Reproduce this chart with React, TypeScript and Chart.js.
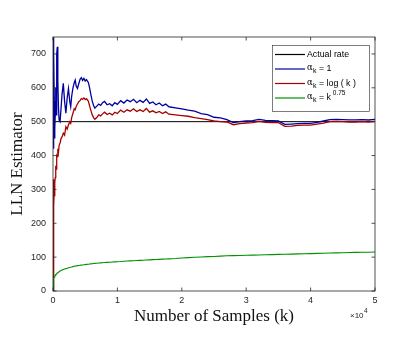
import { useEffect, useRef } from "react";
import { Chart, registerables } from "chart.js";

Chart.register(...registerables);

const sampleCounts = [
  0, 50, 100, 150, 200, 250, 300, 350, 400, 450,
  500, 550, 600, 670, 750, 850, 950, 1100, 1250, 1400,
  1600, 1800, 2000, 2200, 2400, 2600, 2750, 2900, 3100, 3300,
  3450, 3600, 3800, 4000, 4200, 4400, 4600, 4800, 5000, 5200,
  5500, 5700, 5900, 6100, 6300, 6500, 6800, 7100, 7400, 7700,
  8000, 8400, 8800, 9200, 9600, 10000, 10500, 11000, 11500, 12000,
  12500, 13000, 13500, 14000, 14500, 15000, 15500, 16000, 16500, 17000,
  17500, 18000, 19000, 20000, 21000, 22000, 23000, 24000, 25000, 26000,
  27000, 28000, 29000, 30000, 31000, 32000, 33000, 34000, 35000, 36000,
  37000, 38000, 39000, 40000, 41000, 42000, 43000, 44000, 45000, 46000,
  47000, 48000, 49000, 50000,
];

const constantStep = [
  900, 760, 420, 700, 560, 450, 480, 520, 600, 540,
  520, 640, 700, 721, 620, 540, 505, 500, 540, 580,
  613, 560, 525, 570, 598, 560, 544, 575, 600, 615,
  623, 605, 598, 612, 625, 630, 622, 628, 620, 624,
  615, 598, 578, 560, 548, 540, 546, 552, 548, 556,
  560, 550, 553, 547, 556, 551, 562, 555, 564, 559,
  566, 556, 563, 557, 567, 554, 558, 550, 555, 547,
  552, 544, 541, 538, 534, 531, 524, 521, 513, 511,
  506, 497, 500, 502, 503, 507, 504, 503, 502, 492,
  493, 494, 495, 495, 498, 502, 506, 507, 506, 505,
  505, 506, 505, 507,
];

const logStep = [
  0, 230, 330, 250, 300, 280, 320, 335, 350, 370,
  360, 385, 400, 397, 420, 410, 430, 437, 450, 455,
  466, 460, 485, 478, 490, 500, 495, 512, 525, 538,
  535, 545, 552, 559, 562, 568, 566, 570, 565, 568,
  560, 545, 532, 520, 512, 507, 512, 520, 517, 523,
  528, 521, 525, 520, 528, 524, 534, 528, 535, 531,
  538, 530, 535, 530, 539, 528, 532, 526, 530, 524,
  529, 522, 520, 518, 516, 512, 509, 506, 502, 500,
  499, 491, 494, 496, 497, 501, 498, 497, 497, 486,
  487, 489, 490, 490, 493, 496, 500, 501, 500, 499,
  499, 500, 499, 501,
];

const powerStep = [
  0, 30, 36, 39, 41, 43, 44.5, 46, 47.5, 48.5,
  50, 51, 52, 53, 54, 55.5, 57, 59, 60.5, 62,
  63.5, 65, 66, 67, 68.5, 69.5, 70, 71, 72, 73,
  73.5, 74, 75, 75.5, 76, 76.5, 77, 77.5, 78, 78.5,
  79, 79.5, 80, 80.5, 81, 81.5, 82, 82.5, 83, 83.5,
  84, 84.5, 85, 85.5, 86, 86.5, 87, 88, 88.5, 89,
  89.5, 90, 90.5, 91, 91.5, 92, 92.5, 93, 93.5, 94,
  94.5, 95, 96, 97.5, 98.5, 99.5, 100.5, 101.5, 102, 103,
  104, 104.5, 105, 105.5, 106, 106.5, 107, 107.5, 108, 108.5,
  109, 109.5, 110, 110.5, 111, 111.5, 112, 112.5, 113, 113.5,
  114, 114.5, 114.5, 115,
];

const actualRateX = [0, 50000];
const actualRateY = [500, 500];

const xTickValues = [0, 10000, 20000, 30000, 40000, 50000];
const yTickValues = [0, 100, 200, 300, 400, 500, 600, 700];

const INK = "#262626";
const C_BLACK = "#000000";
const C_BLUE = "#0000a0";
const C_RED = "#a80000";
const C_GREEN = "#009000";

const toPoints = (xs: number[], ys: number[]) => xs.map((x, i) => ({ x, y: ys[i] }));

const decorPlugin = {
  id: "decor",
  afterDraw(chart: any) {
    const { ctx, chartArea, scales } = chart;
    const { left, right, top, bottom } = chartArea;
    const xs = scales.x;
    const ys = scales.y;
    ctx.save();
    ctx.strokeStyle = INK;
    ctx.lineWidth = 0.8;
    ctx.strokeRect(left, top, right - left, bottom - top);
    const tl = 3.5;
    ctx.beginPath();
    xTickValues.forEach((v) => {
      const px = xs.getPixelForValue(v);
      ctx.moveTo(px, bottom);
      ctx.lineTo(px, bottom - tl);
      ctx.moveTo(px, top);
      ctx.lineTo(px, top + tl);
    });
    yTickValues.forEach((v) => {
      const py = ys.getPixelForValue(v);
      ctx.moveTo(left, py);
      ctx.lineTo(left + tl, py);
      ctx.moveTo(right, py);
      ctx.lineTo(right - tl, py);
    });
    ctx.stroke();

    ctx.fillStyle = INK;
    ctx.textBaseline = "middle";
    ctx.textAlign = "left";
    ctx.font = "8px 'Liberation Sans'";
    ctx.fillText("\u00d710", 350, 316);
    ctx.font = "6.5px 'Liberation Sans'";
    ctx.fillText("4", 364, 311);

    const bx = 272, by = 45, bw = 97, bh = 66;
    ctx.fillStyle = "#ffffff";
    ctx.fillRect(bx, by, bw, bh);
    ctx.strokeStyle = INK;
    ctx.lineWidth = 0.6;
    ctx.strokeRect(bx + 0.5, by + 0.5, bw, bh);
    const rows = [
      { color: C_BLACK, y: 54.5, kind: "actual" },
      { color: C_BLUE, y: 69, kind: "one" },
      { color: C_RED, y: 83.5, kind: "log" },
      { color: C_GREEN, y: 98, kind: "pow" },
    ];
    rows.forEach((r) => {
      ctx.strokeStyle = r.color;
      ctx.lineWidth = 1.2;
      ctx.beginPath();
      ctx.moveTo(275, r.y);
      ctx.lineTo(305, r.y);
      ctx.stroke();
      ctx.fillStyle = "#000000";
      ctx.textBaseline = "middle";
      let x = 307;
      if (r.kind === "actual") {
        ctx.font = "8.8px 'Liberation Sans'";
        ctx.fillText("Actual rate", x, r.y);
        return;
      }
      ctx.font = "8.5px 'DejaVu Serif'";
      ctx.fillText("\u03b1", x, r.y - 1);
      x += ctx.measureText("\u03b1").width + 0.3;
      ctx.font = "7px 'Liberation Sans'";
      ctx.fillText("k", x, r.y + 2.5);
      x += ctx.measureText("k").width;
      ctx.font = "8.8px 'Liberation Sans'";
      let rest = "";
      if (r.kind === "one") rest = " = 1";
      if (r.kind === "log") rest = " = log ( k )";
      if (r.kind === "pow") rest = " = k";
      ctx.fillText(rest, x, r.y);
      x += ctx.measureText(rest).width;
      if (r.kind === "pow") {
        ctx.font = "6.5px 'Liberation Sans'";
        ctx.fillText(" 0.75", x, r.y - 4.5);
      }
    });
    ctx.restore();
  },
};

export default function App() {
  const canvasRef = useRef<HTMLCanvasElement | null>(null);

  useEffect(() => {
    document.body.style.margin = "0";
    const canvas = canvasRef.current;
    if (!canvas) return;
    const lineDs = (label: string, xs: number[], ys: number[], color: string, order: number, width: number) => ({
      label,
      data: toPoints(xs, ys),
      borderColor: color,
      backgroundColor: color,
      borderWidth: width,
      pointRadius: 0,
      tension: 0,
      fill: false,
      order,
    });
    const chart = new Chart(canvas, {
      type: "line",
      data: {
        datasets: [
          lineDs("Actual rate", actualRateX, actualRateY, C_BLACK, 3, 1),
          lineDs("\u03b1k = 1", sampleCounts, constantStep, C_BLUE, 2, 1.3),
          lineDs("\u03b1k = log ( k )", sampleCounts, logStep, C_RED, 1, 1.3),
          lineDs("\u03b1k = k 0.75", sampleCounts, powerStep, C_GREEN, 0, 1.1),
        ],
      },
      options: {
        animation: false,
        responsive: true,
        maintainAspectRatio: false,
        layout: { padding: { top: 37, right: 40, left: 0, bottom: 0 } },
        plugins: { legend: { display: false }, tooltip: { enabled: false } },
        scales: {
          x: {
            type: "linear",
            min: 0,
            max: 50000,
            grid: { display: false, drawTicks: false },
            border: { display: false },
            afterBuildTicks: (s: any) => {
              s.ticks = xTickValues.map((v) => ({ value: v }));
            },
            afterFit: (s: any) => {
              s.height = 52;
            },
            ticks: {
              color: INK,
              font: { family: "'Liberation Sans'", size: 9 },
              padding: 4,
              maxRotation: 0,
              callback: (v: any) => String(Number(v) / 10000),
            },
            title: {
              display: true,
              text: "Number of Samples (k)",
              color: "#111111",
              font: { family: "'Liberation Serif'", size: 17 },
              padding: { top: 0, bottom: 16 },
            },
          },
          y: {
            type: "linear",
            min: 0,
            max: 750,
            grid: { display: false, drawTicks: false },
            border: { display: false },
            afterBuildTicks: (s: any) => {
              s.ticks = yTickValues.map((v) => ({ value: v }));
            },
            afterFit: (s: any) => {
              s.width = 53;
            },
            ticks: {
              color: INK,
              font: { family: "'Liberation Sans'", size: 9 },
              padding: 7,
            },
            title: {
              display: true,
              text: "LLN Estimator",
              color: "#111111",
              font: { family: "'Liberation Serif'", size: 17 },
              padding: { top: 7, bottom: 0 },
            },
          },
        },
      },
      plugins: [decorPlugin],
    } as any);
    return () => chart.destroy();
  }, []);

  return (
    <div style={{ position: "fixed", left: 0, top: 0, width: 415, height: 343 }}>
      <canvas ref={canvasRef} />
    </div>
  );
}
